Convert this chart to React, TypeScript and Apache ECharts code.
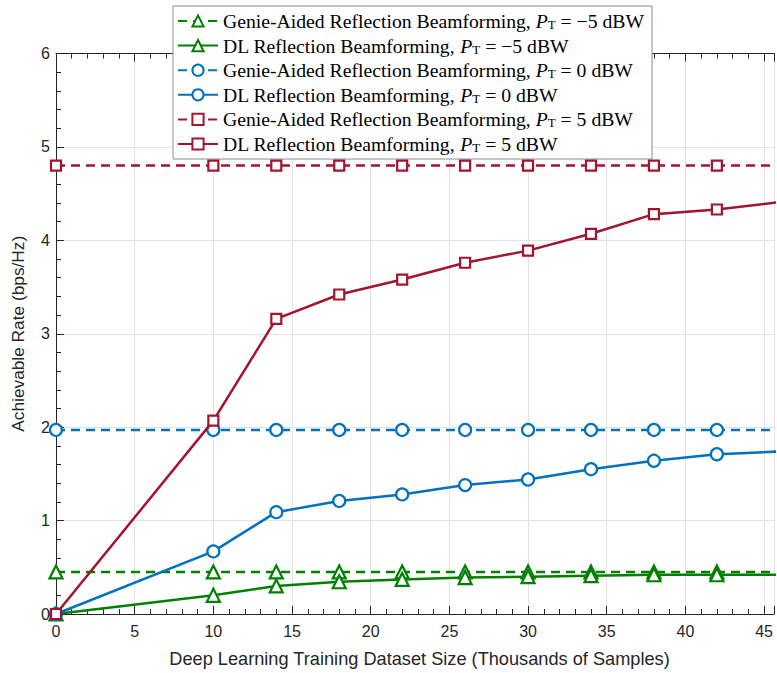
import React, { useEffect, useRef } from "react";
import * as echarts from "echarts";

const xValues = [0, 10, 14, 18, 22, 26, 30, 34, 38, 42, 46];
const genieM5 = [0.45, 0.45, 0.45, 0.45, 0.45, 0.45, 0.45, 0.45, 0.45, 0.45, 0.45];
const dlM5 = [0, 0.2, 0.3, 0.345, 0.37, 0.39, 0.4, 0.41, 0.42, 0.42, 0.42];
const genie0 = [1.97, 1.97, 1.97, 1.97, 1.97, 1.97, 1.97, 1.97, 1.97, 1.97, 1.97];
const dl0 = [0, 0.67, 1.09, 1.21, 1.28, 1.38, 1.44, 1.55, 1.64, 1.71, 1.74];
const genie5 = [4.8, 4.8, 4.8, 4.8, 4.8, 4.8, 4.8, 4.8, 4.8, 4.8, 4.8];
const dl5 = [0, 2.07, 3.16, 3.42, 3.58, 3.76, 3.89, 4.07, 4.28, 4.33, 4.41];

const seriesPrefix = [
  "Genie-Aided Reflection Beamforming, ",
  "DL Reflection Beamforming, ",
  "Genie-Aided Reflection Beamforming, ",
  "DL Reflection Beamforming, ",
  "Genie-Aided Reflection Beamforming, ",
  "DL Reflection Beamforming, ",
];
const seriesPower = ["−5", "−5", "0", "0", "5", "5"];
const seriesData = [genieM5, dlM5, genie0, dl0, genie5, dl5];
const seriesColor = ["#008000", "#008000", "#0072BD", "#0072BD", "#A2142F", "#A2142F"];
const seriesSymbol = ["triangle", "triangle", "circle", "circle", "rect", "rect"];
const seriesDashed = [true, false, true, false, true, false];

const xTicks = [0, 5, 10, 15, 20, 25, 30, 35, 40, 45];
const xVisibleMax = 45.63;

export default function App() {
  const ref = useRef<HTMLDivElement>(null);
  useEffect(() => {
    if (!ref.current) return;
    const chart = echarts.init(ref.current, undefined, { renderer: "svg" });
    const names = seriesPrefix.map((p, i) => `${p}P_T = ${seriesPower[i]} dBW`);
    const axisColor = "#262626";
    const sans = "Liberation Sans, Arial, sans-serif";
    const serif = "Liberation Serif, Times New Roman, serif";
    const symbolSizes: Record<string, number> = { triangle: 13, circle: 12, rect: 10 };
    chart.setOption({
      animation: false,
      backgroundColor: "#ffffff",
      grid: { left: 56, right: 0, top: 53.5, bottom: 54.5 },
      legend: {
        orient: "vertical",
        left: 173,
        top: 6,
        data: names,
        backgroundColor: "#ffffff",
        borderColor: "#8c8c8c",
        borderWidth: 1,
        borderRadius: 0,
        padding: [4, 8, 5, 4],
        itemWidth: 40,
        itemHeight: 14,
        itemGap: 3.6,
        formatter: (name: string) => {
          const i = names.indexOf(name);
          return `{a|${seriesPrefix[i]}}{p|P}{t|T}{a| = ${seriesPower[i]} dBW}`;
        },
        textStyle: {
          color: "#000",
          fontFamily: serif,
          fontSize: 19.7,
          rich: {
            a: { fontFamily: serif, fontSize: 19.7, color: "#000", lineHeight: 20 },
            p: { fontFamily: serif, fontSize: 19.7, fontStyle: "italic", color: "#000", lineHeight: 20 },
            t: { fontFamily: serif, fontSize: 13, color: "#000", verticalAlign: "bottom", lineHeight: 20, padding: [8, 0, 0, 0] },
          },
        },
      },
      xAxis: [
        {
          type: "value",
          min: 0,
          max: xVisibleMax,
          interval: 5,
          position: "bottom",
          name: "Deep Learning Training Dataset Size (Thousands of Samples)",
          nameLocation: "middle",
          nameGap: 36,
          nameTextStyle: { fontFamily: sans, fontSize: 18.2, color: axisColor, padding: [0, 0, 0, 9] },
          axisLine: { show: true, lineStyle: { color: axisColor, width: 1 } },
          axisTick: { show: true, inside: true, length: 8, lineStyle: { color: axisColor } },
          minorTick: { show: true, splitNumber: 5, length: 5, lineStyle: { color: axisColor } },
          axisLabel: {
            fontFamily: sans,
            fontSize: 16,
            color: axisColor,
            margin: 9,
            formatter: (v: number) => (xTicks.includes(v) ? String(v) : ""),
          },
          splitLine: { show: true, lineStyle: { color: "#e3e3e3", width: 1 } },
        },
        {
          type: "value",
          min: 0,
          max: xVisibleMax,
          interval: 5,
          position: "top",
          axisLine: { show: true, lineStyle: { color: axisColor, width: 1 } },
          axisTick: { show: true, inside: true, length: 8, lineStyle: { color: axisColor } },
          minorTick: { show: true, splitNumber: 5, length: 5, lineStyle: { color: axisColor } },
          axisLabel: { show: false },
          splitLine: { show: false },
        },
      ],
      yAxis: {
        type: "value",
        min: 0,
        max: 6,
        interval: 1,
        name: "Achievable Rate (bps/Hz)",
        nameLocation: "middle",
        nameGap: 30,
        nameTextStyle: { fontFamily: sans, fontSize: 17.3, color: axisColor },
        axisLine: { show: true, lineStyle: { color: axisColor, width: 1 } },
        axisTick: { show: true, inside: true, length: 8, lineStyle: { color: axisColor } },
        minorTick: { show: true, splitNumber: 5, length: 5, lineStyle: { color: axisColor } },
        axisLabel: { fontFamily: sans, fontSize: 16, color: axisColor, margin: 6 },
        splitLine: { show: true, lineStyle: { color: "#e3e3e3", width: 1 } },
      },
      series: names.map((name, i) => ({
        name,
        type: "line",
        xAxisIndex: 0,
        data: xValues.map((x, j) => [x, seriesData[i][j]]),
        symbol: seriesSymbol[i],
        symbolSize: symbolSizes[seriesSymbol[i]],
        showAllSymbol: true,
        clip: true,
        z: 2 + i,
        lineStyle: {
          color: seriesColor[i],
          width: 2.5,
          type: seriesDashed[i] ? [9, 6] : "solid",
        },
        itemStyle: { color: "#ffffff", borderColor: seriesColor[i], borderWidth: 2.2 },
        emphasis: { disabled: true },
      })),
    });
    return () => chart.dispose();
  }, []);
  return <div ref={ref} style={{ width: 777, height: 673, position: "absolute", left: 0, top: 0 }} />;
}
